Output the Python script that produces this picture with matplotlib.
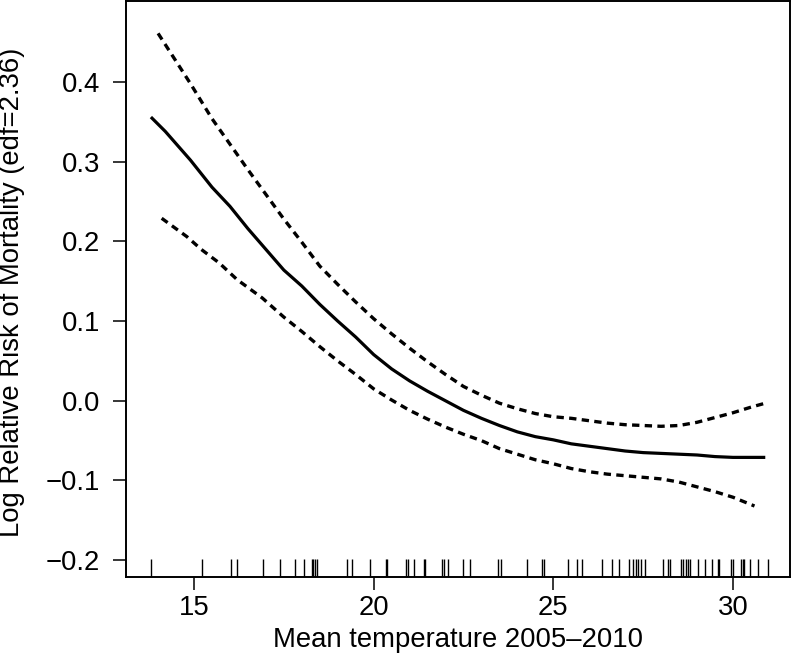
import matplotlib
matplotlib.use("Agg")
import matplotlib.pyplot as plt

plt.rcParams['font.family'] = ['Liberation Sans', 'DejaVu Sans']

# Smooth term estimate (solid line)
temp_fit = [13.8, 14.2, 14.9, 15.5, 16.0, 16.5, 17.0, 17.5, 18.0, 18.5, 19.0, 19.5,
            20.0, 20.5, 21.0, 21.5, 22.0, 22.5, 23.0, 23.5, 24.0, 24.5, 25.0, 25.5,
            26.0, 26.5, 27.0, 27.5, 28.0, 28.5, 29.0, 29.5, 30.0, 30.5, 30.9]
fit = [0.356, 0.338, 0.302, 0.268, 0.244, 0.216, 0.190, 0.164, 0.144, 0.121, 0.100, 0.080,
       0.058, 0.040, 0.025, 0.012, 0.000, -0.012, -0.022, -0.031, -0.039, -0.045, -0.049, -0.054,
       -0.057, -0.060, -0.063, -0.065, -0.066, -0.067, -0.068, -0.070, -0.071, -0.071, -0.071]

# Upper confidence band (dashed)
temp_upper = [14.0, 14.5, 14.9, 15.5, 16.0, 16.5, 17.0, 17.5, 18.0, 18.5, 19.0, 19.5,
              20.0, 20.5, 21.0, 21.5, 22.0, 22.5, 23.0, 23.5, 24.0, 24.5, 25.0, 25.5,
              26.0, 26.5, 27.0, 27.5, 28.0, 28.5, 29.0, 29.5, 30.0, 30.5, 30.9]
upper = [0.461, 0.426, 0.398, 0.354, 0.322, 0.290, 0.259, 0.228, 0.199, 0.169, 0.146, 0.124,
         0.103, 0.084, 0.066, 0.049, 0.033, 0.018, 0.007, -0.003, -0.010, -0.016, -0.020, -0.022,
         -0.025, -0.028, -0.030, -0.031, -0.032, -0.031, -0.027, -0.021, -0.015, -0.008, -0.003]

# Lower confidence band (dashed)
temp_lower = [14.1, 14.8, 15.2, 15.7, 16.2, 16.9, 17.5, 18.0, 18.5, 19.0, 19.5,
              20.0, 20.5, 21.0, 21.5, 22.0, 22.5, 23.0, 23.5, 24.0, 24.5, 25.0, 25.5,
              26.0, 26.5, 27.0, 27.5, 28.0, 28.5, 29.0, 29.5, 30.0, 30.6]
lower = [0.229, 0.206, 0.190, 0.173, 0.152, 0.129, 0.105, 0.087, 0.068, 0.050, 0.033,
         0.015, 0.001, -0.012, -0.023, -0.033, -0.042, -0.050, -0.060, -0.067, -0.074, -0.079, -0.085,
         -0.089, -0.092, -0.094, -0.096, -0.098, -0.102, -0.108, -0.114, -0.121, -0.132]

# Rug of observed temperatures
rug_temps = [13.80, 15.23, 16.03, 16.19, 16.93, 17.39, 17.81, 18.06, 18.28, 18.31, 18.36, 18.41,
             19.27, 19.40, 19.91, 20.33, 20.38, 20.89, 20.96, 21.13, 21.39, 21.43, 21.91, 21.97,
             22.06, 22.50, 22.67, 23.47, 23.54, 24.28, 24.69, 24.73, 25.42, 25.67, 25.79, 26.36,
             26.62, 26.82, 27.11, 27.22, 27.31, 27.37, 27.43, 27.56, 28.04, 28.19, 28.24, 28.56,
             28.61, 28.69, 28.75, 28.80, 29.03, 29.22, 29.43, 29.58, 29.61, 29.95, 30.00, 30.23,
             30.28, 30.32, 30.48, 30.69, 30.97]

x_ticks = [15, 20, 25, 30]
y_ticks = [-0.2, -0.1, 0.0, 0.1, 0.2, 0.3, 0.4]
y_ticklabels = ["\u22120.2", "\u22120.1", "0.0", "0.1", "0.2", "0.3", "0.4"]

W, H = 793, 657
fig = plt.figure(figsize=(W / 100, H / 100), dpi=100)
ax = fig.add_axes([126 / W, 80.3 / H, 664 / W, 575.7 / H])

ax.plot(temp_fit, fit, color='black', lw=2.3, solid_capstyle='butt')
dash = (0, (2.2, 1.6))
ax.plot(temp_upper, upper, color='black', lw=2.4, linestyle=dash, dash_capstyle='butt')
ax.plot(temp_lower, lower, color='black', lw=2.4, linestyle=dash, dash_capstyle='butt')

ax.vlines(rug_temps, 0, 0.03, transform=ax.get_xaxis_transform(), color='black', lw=1.0)

ax.set_xlim(13.107, 31.588)
ax.set_ylim(-0.2207, 0.5016)
ax.set_xticks(x_ticks)
ax.set_xticklabels([str(t) for t in x_ticks])
ax.set_yticks(y_ticks)
ax.set_yticklabels(y_ticklabels)

fs = 19.8
ax.tick_params(direction='out', length=9.4, width=1.1, labelsize=fs, colors='black')
ax.tick_params(axis='x', pad=4)
ax.tick_params(axis='y', pad=9.5)
for s in ax.spines.values():
    s.set_linewidth(1.4)
    s.set_color('black')

ax.set_xlabel("Mean temperature 2005\u20132010", fontsize=fs)
ax.set_ylabel("Log Relative Risk of Mortality (edf=2.36)", fontsize=fs)
ax.xaxis.set_label_coords(0.5, -0.087)
ax.yaxis.set_label_coords(-0.152, 0.494)

fig.savefig("out.png", dpi=100)
